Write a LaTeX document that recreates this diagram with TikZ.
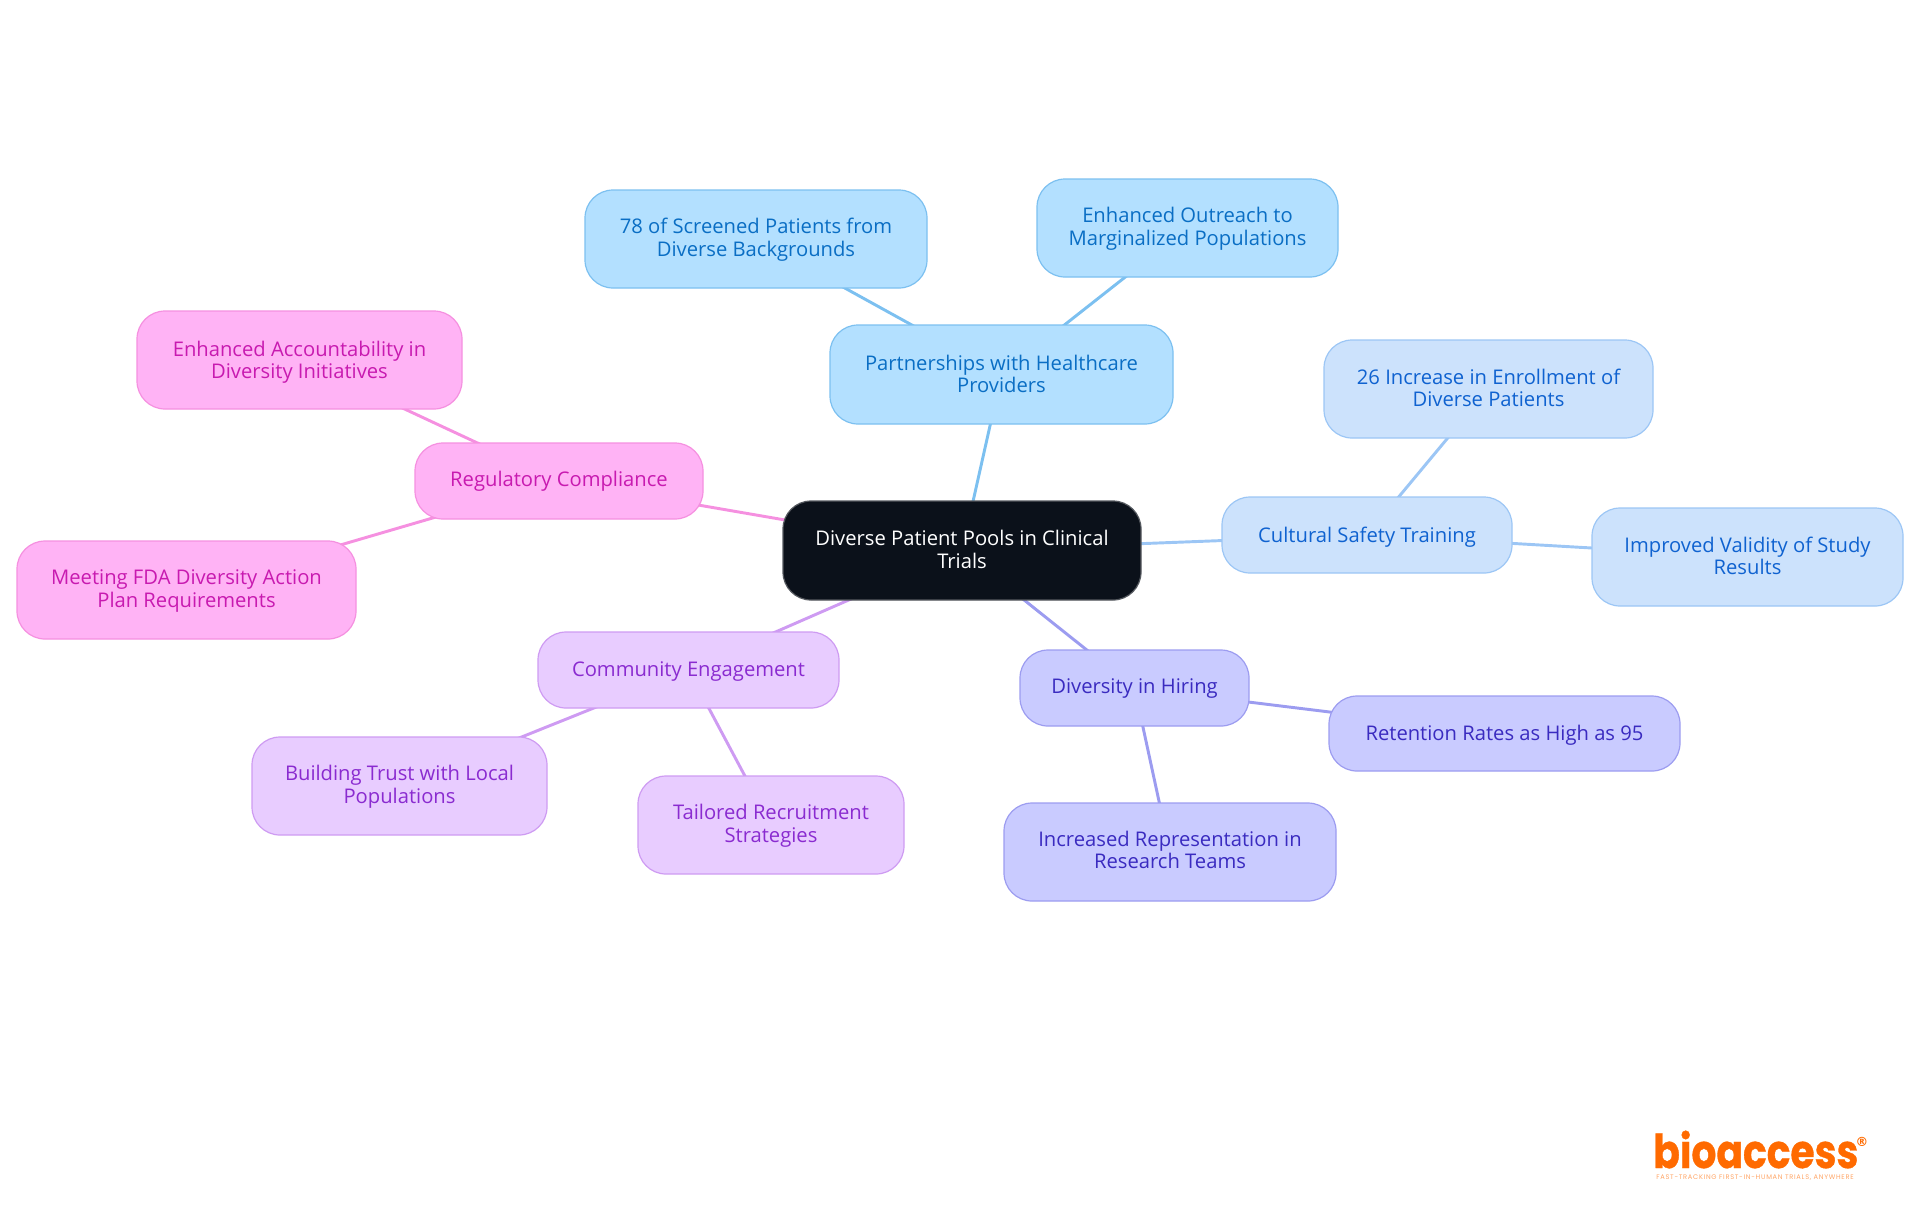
\documentclass[tikz,border=0pt]{standalone}
\usepackage{fontspec}
\setmainfont{Open Sans}
\newfontfamily\logofont{Poppins}[FakeStretch=0.84,BoldFeatures={FakeBold=0.7}]
\newfontfamily\markfont{DejaVu Sans}
\newfontfamily\tagfont{Poppins}[LetterSpace=10.6]
\usetikzlibrary{backgrounds}
\definecolor{rootf}{HTML}{0B111A}\definecolor{rootd}{HTML}{55595F}
\definecolor{af}{HTML}{B3E0FF}\definecolor{ad}{HTML}{7CC0F0}\definecolor{at}{HTML}{0A6EC4}
\definecolor{bf}{HTML}{CCE2FC}\definecolor{bd}{HTML}{9CC6F5}\definecolor{bt}{HTML}{0F62D0}
\definecolor{cf}{HTML}{C9CBFF}\definecolor{cd}{HTML}{9C9CF0}\definecolor{ct}{HTML}{3A2BC0}
\definecolor{df}{HTML}{E8CCFF}\definecolor{dd}{HTML}{CE9BF2}\definecolor{dt}{HTML}{8A2BD0}
\definecolor{ef}{HTML}{FFB3F5}\definecolor{ed}{HTML}{F590E0}\definecolor{et}{HTML}{C81AB0}
\definecolor{logoc}{HTML}{FF6A00}
\tikzset{
  box/.style={rectangle,rounded corners=21pt,line width=0.9pt,inner sep=0pt,align=center,
    font=\fontsize{15.15}{16.6}\selectfont},
  rootbox/.style={box,fill=rootf,draw=rootd,text=white},
  abox/.style={box,fill=af,draw=ad,text=at},
  bbox/.style={box,fill=bf,draw=bd,text=bt},
  cbox/.style={box,fill=cf,draw=cd,text=ct},
  dbox/.style={box,fill=df,draw=dd,text=dt},
  ebox/.style={box,fill=ef,draw=ed,text=et},
  link/.style={line width=2.2pt},
}
% name, x0, x1, y0, y1, style, text raise (pt), text
\newcommand{\mapnode}[8]{\node[#6,minimum width={(#3-#2)*0.75pt},minimum height={(#5-#4)*0.75pt}] (#1) at ({(#2+#3)/2},{(#4+#5)/2}) {\smash{\raisebox{\dimexpr#7pt-5.65pt\relax}{\begin{tabular}{@{}c@{}}#8\end{tabular}}}};}
\begin{document}
\begin{tikzpicture}[x=0.75pt,y=-0.75pt]
\useasboundingbox (0,0) rectangle (1920,1215);
\mapnode{root}{783}{1141}{501}{600}{rootbox}{0.5}{Diverse Patient Pools in Clinical\\Trials}
\mapnode{part}{830}{1173}{325}{424}{abox}{0}{Partnerships with Healthcare\\Providers}
\mapnode{scr}{585}{927}{190}{288}{abox}{0.9}{78 of Screened Patients from\\Diverse Backgrounds}
\mapnode{out}{1037}{1338}{179}{277}{abox}{0.9}{Enhanced Outreach to\\Marginalized Populations}
\mapnode{cult}{1222}{1512}{497}{573}{bbox}{-0.4}{Cultural Safety Training}
\mapnode{inc}{1324}{1653}{340}{438}{bbox}{0.2}{26 Increase in Enrollment of\\Diverse Patients}
\mapnode{val}{1592}{1903}{508}{606}{bbox}{0.7}{Improved Validity of Study\\Results}
\mapnode{hire}{1020}{1249}{650}{726}{cbox}{0.9}{Diversity in Hiring}
\mapnode{ret}{1329}{1680}{696}{771}{cbox}{0}{Retention Rates as High as 95}
\mapnode{rep}{1004}{1336}{803}{901}{cbox}{1}{Increased Representation in\\Research Teams}
\mapnode{com}{538}{839}{632}{708}{dbox}{0.4}{Community Engagement}
\mapnode{trust}{252}{547}{737}{835}{dbox}{0.9}{Building Trust with Local\\Populations}
\mapnode{tail}{638}{904}{776}{874}{dbox}{0.9}{Tailored Recruitment\\Strategies}
\mapnode{reg}{415}{703}{443}{519}{ebox}{0.9}{Regulatory Compliance}
\mapnode{acc}{137}{462}{311}{409}{ebox}{-0.4}{Enhanced Accountability in\\Diversity Initiatives}
\mapnode{fda}{17}{356}{541}{639}{ebox}{0.9}{Meeting FDA Diversity Action\\Plan Requirements}
\begin{scope}[on background layer]
\draw[link,ad] (root.center)--(part.center);
\draw[link,ad] (part.center)--(scr.center);
\draw[link,ad] (part.center)--(out.center);
\draw[link,bd] (root.center)--(cult.center);
\draw[link,bd] (cult.center)--(inc.center);
\draw[link,bd] (cult.center)--(val.center);
\draw[link,cd] (root.center)--(hire.center);
\draw[link,cd] (hire.center)--(ret.center);
\draw[link,cd] (hire.center)--(rep.center);
\draw[link,dd] (root.center)--(com.center);
\draw[link,dd] (com.center)--(trust.center);
\draw[link,dd] (com.center)--(tail.center);
\draw[link,ed] (root.center)--(reg.center);
\draw[link,ed] (reg.center)--(acc.center);
\draw[link,ed] (reg.center)--(fda.center);
\end{scope}
\node[inner sep=0pt,anchor=base west,text=logoc,font=\logofont\bfseries\fontsize{35}{35}\selectfont] (logo) at (1653,1168) {bioaccess};
\node[inner sep=0pt,anchor=center,text=logoc,font=\markfont\bfseries\fontsize{9.5}{10}\selectfont] (regmark) at (1862,1142) {®};
\node[inner sep=0pt,anchor=center,text=logoc!60,font=\tagfont\fontsize{5}{5}\selectfont] (tag) at (1755,1178) {FAST-TRACKING FIRST-IN-HUMAN TRIALS, ANYWHERE};
\end{tikzpicture}
\end{document}
